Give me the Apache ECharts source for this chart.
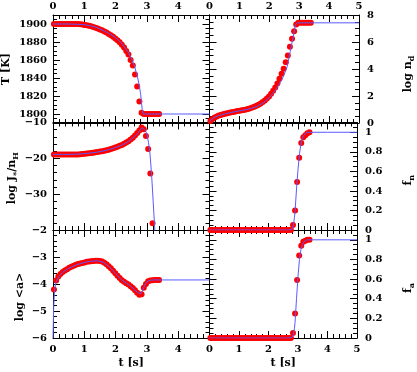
<!DOCTYPE html>
<html>
<head>
<meta charset="utf-8">
<script src="https://cdn.jsdelivr.net/npm/echarts@6/dist/echarts.min.js"></script>
<style>
html, body { margin: 0; padding: 0; background: #fff; }
#main { width: 417px; height: 372px; }
</style>
</head>
<body>
<div id="main"></div>
<script>
// time of the red points (s)
var tDots = [0.03, 0.10, 0.17, 0.24, 0.31, 0.38, 0.45, 0.52, 0.59, 0.66,
  0.73, 0.80, 0.87, 0.94, 1.01, 1.08, 1.15, 1.22, 1.29, 1.36,
  1.43, 1.50, 1.57, 1.64, 1.71, 1.78, 1.85, 1.92, 1.99, 2.06,
  2.13, 2.20, 2.27, 2.34, 2.41, 2.48, 2.55, 2.62, 2.69, 2.76,
  2.83, 2.90, 2.97, 3.04, 3.11, 3.18, 3.25, 3.32, 3.39];
var tempDots = [1900, 1900, 1900, 1900, 1900, 1900, 1900, 1900, 1900, 1900,
  1900, 1900, 1899.7, 1899.4, 1899, 1898.6, 1898, 1897.4, 1896.7, 1895.9,
  1895, 1894, 1893, 1891.8, 1890.5, 1889, 1887.5, 1885.8, 1884, 1882,
  1879.6, 1877, 1873.8, 1870, 1866, 1860, 1854, 1844, 1830.5, 1814,
  1801.5, 1800, 1800, 1800, 1800, 1800, 1800, 1800, 1800];
var ndDots = [0.15, 0.3, 0.41, 0.49, 0.55, 0.6, 0.65, 0.69, 0.73, 0.76,
  0.79, 0.82, 0.85, 0.88, 0.91, 0.94, 0.97, 1.0, 1.04, 1.09,
  1.14, 1.2, 1.27, 1.35, 1.44, 1.55, 1.67, 1.81, 1.97, 2.16,
  2.38, 2.63, 2.93, 3.28, 3.64, 4.02, 4.5, 5.0, 5.65, 6.25,
  6.8, 7.3, 7.42, 7.42, 7.42, 7.42, 7.42, 7.42, 7.42];
var jDots = [-18.9, -18.9, -18.9, -18.9, -18.9, -18.9, -18.9, -18.9, -18.9, -18.9,
  -18.9, -18.9, -18.85, -18.8, -18.72, -18.65, -18.58, -18.5, -18.42, -18.33,
  -18.23, -18.12, -18.0, -17.87, -17.72, -17.57, -17.4, -17.2, -17.0, -16.78,
  -16.52, -16.25, -15.95, -15.6, -15.2, -14.75, -14.25, -13.65, -12.95, -12.2,
  -11.4, -11.9, -13.8, -17.4, -24.2, -38.1, null, null, null];
var fnDots = [0, 0, 0, 0, 0, 0, 0, 0, 0, 0,
  0, 0, 0, 0, 0, 0, 0, 0, 0, 0,
  0, 0, 0, 0, 0, 0, 0, 0, 0, 0,
  0, 0, 0, 0, 0, 0, 0, 0, 0, 0,
  0.05, 0.2, 0.49, 0.74, 0.89, 0.95, 0.97, 0.99, 1.0];
var aDots = [-4.2, -3.87, -3.72, -3.63, -3.56, -3.5, -3.45, -3.4, -3.36, -3.32,
  -3.29, -3.26, -3.24, -3.22, -3.2, -3.18, -3.17, -3.16, -3.15, -3.14,
  -3.14, -3.15, -3.17, -3.21, -3.27, -3.34, -3.42, -3.51, -3.6, -3.69,
  -3.78, -3.86, -3.92, -3.97, -4.02, -4.08, -4.15, -4.23, -4.32, -4.4,
  -4.38, -4.14, -4.0, -3.9, -3.87, -3.86, -3.85, -3.85, -3.85];
var faDots = [0, 0, 0, 0, 0, 0, 0, 0, 0, 0,
  0, 0, 0, 0, 0, 0, 0, 0, 0, 0,
  0, 0, 0, 0, 0, 0, 0, 0, 0, 0,
  0, 0, 0, 0, 0, 0, 0, 0, 0, 0,
  0.05, 0.25, 0.59, 0.84, 0.94, 0.98, 0.99, 1.0, 1.0];

// time of the blue model curve (s)
var tLine = [0, 0.02, 0.05, 0.1, 0.2, 0.3, 0.5, 0.75, 1.0, 1.2,
  1.4, 1.6, 1.8, 2.0, 2.2, 2.4, 2.5, 2.6, 2.7, 2.75,
  2.8, 2.85, 2.88, 2.9, 2.95, 3.0, 3.05, 3.1, 3.15, 3.2,
  3.25, 3.3, 3.4, 3.5, 4.0, 5.0];
var tempLine = [1900, 1900, 1900, 1900, 1900, 1900, 1900, 1899.7, 1899.2, 1898,
  1896, 1893, 1889.3, 1884.8, 1878.5, 1869, 1862, 1853.5, 1841, 1833,
  1822, 1805, 1800, 1800, 1800, 1800, 1800, 1800, 1800, 1800,
  1800, 1800, 1800, 1800, 1800, 1800];
var ndLine = [0.1, 0.16, 0.24, 0.33, 0.45, 0.54, 0.67, 0.79, 0.9, 0.98,
  1.08, 1.24, 1.5, 1.88, 2.4, 3.12, 3.6, 4.2, 5.3, 5.85,
  6.4, 7.05, 7.3, 7.38, 7.42, 7.42, 7.42, 7.42, 7.42, 7.42,
  7.42, 7.42, 7.42, 7.42, 7.42, 7.42];
var jLine = [-18.9, -18.9, -18.9, -18.9, -18.9, -18.9, -18.9, -18.85, -18.7, -18.5,
  -18.3, -17.95, -17.55, -17.0, -16.3, -15.35, -14.7, -14.0, -13.1, -12.6,
  -12.0, -11.4, -11.2, -11.4, -12.3, -13.2, -15.5, -18.8, -24.6, -32,
  -39.4, -48, null, null, null, null];
var fnLine = [0, 0, 0, 0, 0, 0, 0, 0, 0, 0,
  0, 0, 0, 0, 0, 0, 0, 0, 0, 0,
  0.01, 0.06, 0.13, 0.19, 0.42, 0.62, 0.78, 0.88, 0.94, 0.97,
  0.99, 1, 1, 1, 1, 1];
var aLine = [-6, -4.9, -4.2, -3.92, -3.7, -3.57, -3.42, -3.29, -3.2, -3.16,
  -3.14, -3.19, -3.36, -3.61, -3.86, -4.01, -4.1, -4.21, -4.31, -4.34,
  -4.36, -4.3, -4.2, -4.12, -4.0, -3.92, -3.87, -3.86, -3.85, -3.85,
  -3.85, -3.85, -3.85, -3.85, -3.85, -3.85];
var faLine = [0, 0, 0, 0, 0, 0, 0, 0, 0, 0,
  0, 0, 0, 0, 0, 0, 0, 0, 0, 0,
  0.01, 0.04, 0.1, 0.16, 0.4, 0.63, 0.8, 0.9, 0.95, 0.98,
  0.99, 1, 1, 1, 1, 1];

// ticks and tick labels
var timeTicks = [0, 1, 2, 3, 4, 5];
var timeLabelsLeft = [0, 1, 2, 3, 4];
var timeLabelsRight = [0, 1, 2, 3, 4, 5];
var tempTicks = [1800, 1820, 1840, 1860, 1880, 1900];
var ndTicks = [0, 2, 4, 6, 8];
var jTicks = [-40, -30, -20, -10];
var jLabels = [-30, -20, -10];
var fTicks = [0, 0.2, 0.4, 0.6, 0.8, 1];
var aTicks = [-6, -5, -4, -3, -2];

var FONT = 'DejaVu Serif';

function minorList(lo, hi, step, majors) {
  var out = [];
  for (var i = 0; lo + i * step <= hi + 1e-9; i++) {
    var v = +(lo + i * step).toFixed(6);
    if (majors.indexOf(v) < 0) out.push(v);
  }
  return out;
}
function fmt(v) { return String(v).replace('-', '\u2212'); }

var nameStyle = {
  fontFamily: FONT, fontWeight: 'bold', fontSize: 11, color: '#000',
  rich: {
    n: { fontFamily: FONT, fontWeight: 'bold', fontSize: 11, color: '#000' },
    s: { fontFamily: FONT, fontWeight: 'bold', fontSize: 8, color: '#000', padding: [7, 0, 0, 0] }
  }
};

var panels = [
  { grid: { left: 53, top: 15, width: 156.5, height: 108 }, ymin: 1790, ymax: 1910, ticks: tempTicks, labels: tempTicks, step: 5,
    side: 'left', name: 'T [K]', gap: 41, pad: 0, xTop: timeLabelsLeft, xBottom: null, dots: tempDots, line: tempLine },
  { grid: { left: 209.5, top: 15, width: 155, height: 108 }, ymin: 0, ymax: 8, ticks: ndTicks, labels: ndTicks, step: 0.5,
    side: 'right', name: '{n|log n}{s|d}', gap: 42, pad: 10, xTop: timeLabelsRight, xBottom: null, dots: ndDots, line: ndLine },
  { grid: { left: 53, top: 122.5, width: 156.5, height: 107.5 }, ymin: -40, ymax: -10, ticks: jTicks, labels: jLabels, step: 2,
    side: 'left', name: '{n|log J}{s|*}{n|/n}{s|H}', gap: 33, pad: 4, xTop: null, xBottom: null, dots: jDots, line: jLine },
  { grid: { left: 209.5, top: 122.5, width: 155, height: 107.5 }, ymin: 0, ymax: 1.1, ticks: fTicks, labels: fTicks, step: 0.05,
    side: 'right', name: '{n|f}{s|n}', gap: 44, pad: 8, xTop: null, xBottom: null, dots: fnDots, line: fnLine },
  { grid: { left: 53, top: 230, width: 156.5, height: 108 }, ymin: -6, ymax: -2, ticks: aTicks, labels: aTicks, step: 0.2,
    side: 'left', name: 'log <a>', gap: 27, pad: 26, xTop: null, xBottom: timeLabelsLeft, dots: aDots, line: aLine },
  { grid: { left: 209.5, top: 230, width: 155, height: 108 }, ymin: 0, ymax: 1.1, ticks: fTicks, labels: fTicks, step: 0.05,
    side: 'right', name: '{n|f}{s|a}', gap: 44, pad: 8, xTop: null, xBottom: timeLabelsRight, dots: faDots, line: faLine }
];

var grids = [], xAxes = [], yAxes = [], series = [];

function baseAxis(g, pos, min, max) {
  return {
    type: 'value', gridIndex: g, position: pos, min: min, max: max,
    axisLine: { show: true, onZero: false, lineStyle: { color: '#000', width: 1 } },
    splitLine: { show: false }
  };
}
function majorAxis(g, pos, min, max, ticks, labels, margin) {
  var ax = baseAxis(g, pos, min, max);
  ax.axisTick = { show: true, inside: true, length: 7, customValues: ticks, lineStyle: { color: '#000', width: 1 } };
  ax.axisLabel = labels ? {
    show: true, customValues: labels, formatter: fmt, margin: margin,
    fontFamily: FONT, fontWeight: 'bold', fontSize: 10, color: '#000'
  } : { show: false };
  return ax;
}
function minorAxis(g, pos, min, max, values) {
  var ax = baseAxis(g, pos, min, max);
  ax.axisLine = { show: false, onZero: false };
  ax.axisTick = { show: true, inside: true, length: 4, customValues: values, lineStyle: { color: '#000', width: 1 } };
  ax.axisLabel = { show: false };
  return ax;
}

panels.forEach(function (p, g) {
  grids.push(Object.assign({ containLabel: false }, p.grid));
  var xi = xAxes.length, yi = yAxes.length;
  var xMinor = minorList(0, 5, 0.2, timeTicks);
  var yMinor = minorList(p.ymin, p.ymax, p.step, p.ticks);

  var xb = majorAxis(g, 'bottom', 0, 5, timeTicks, p.xBottom, 6);
  if (p.xBottom) {
    xb.name = 't [s]';
    xb.nameLocation = 'middle';
    xb.nameGap = 20;
    xb.nameTextStyle = nameStyle;
  }
  xAxes.push(xb);
  xAxes.push(majorAxis(g, 'top', 0, 5, timeTicks, p.xTop, 4));
  xAxes.push(minorAxis(g, 'bottom', 0, 5, xMinor));
  xAxes.push(minorAxis(g, 'top', 0, 5, xMinor));

  var yl = majorAxis(g, 'left', p.ymin, p.ymax, p.ticks, p.side === 'left' ? p.labels : null, 6);
  var yr = majorAxis(g, 'right', p.ymin, p.ymax, p.ticks, p.side === 'right' ? p.labels : null, 8);
  var named = p.side === 'left' ? yl : yr;
  named.name = p.name;
  named.nameLocation = 'middle';
  named.nameRotate = 90;
  named.nameGap = p.gap;
  named.nameTextStyle = Object.assign({}, nameStyle, { padding: [0, p.pad, 0, 0] });
  yAxes.push(yl);
  yAxes.push(yr);
  yAxes.push(minorAxis(g, 'left', p.ymin, p.ymax, yMinor));
  yAxes.push(minorAxis(g, 'right', p.ymin, p.ymax, yMinor));

  series.push({
    type: 'scatter', xAxisIndex: xi, yAxisIndex: yi,
    symbol: 'circle', symbolSize: 6,
    itemStyle: { color: '#ff0000', opacity: 1, borderColor: '#ff0000', borderWidth: 0, shadowBlur: 0 },
    emphasis: { disabled: true },
    data: tDots.map(function (t, i) { return [t, p.dots[i]]; })
  });
  series.push({
    type: 'line', xAxisIndex: xi, yAxisIndex: yi,
    showSymbol: false, symbol: 'none',
    lineStyle: { color: '#5a5aff', width: 1 },
    emphasis: { disabled: true },
    data: tLine.map(function (t, i) { return [t, p.line[i]]; })
  });
});

var chart = echarts.init(document.getElementById('main'), null, { renderer: 'canvas' });
chart.setOption({
  animation: false,
  backgroundColor: '#fff',
  grid: grids,
  xAxis: xAxes,
  yAxis: yAxes,
  series: series
});
</script>
</body>
</html>
